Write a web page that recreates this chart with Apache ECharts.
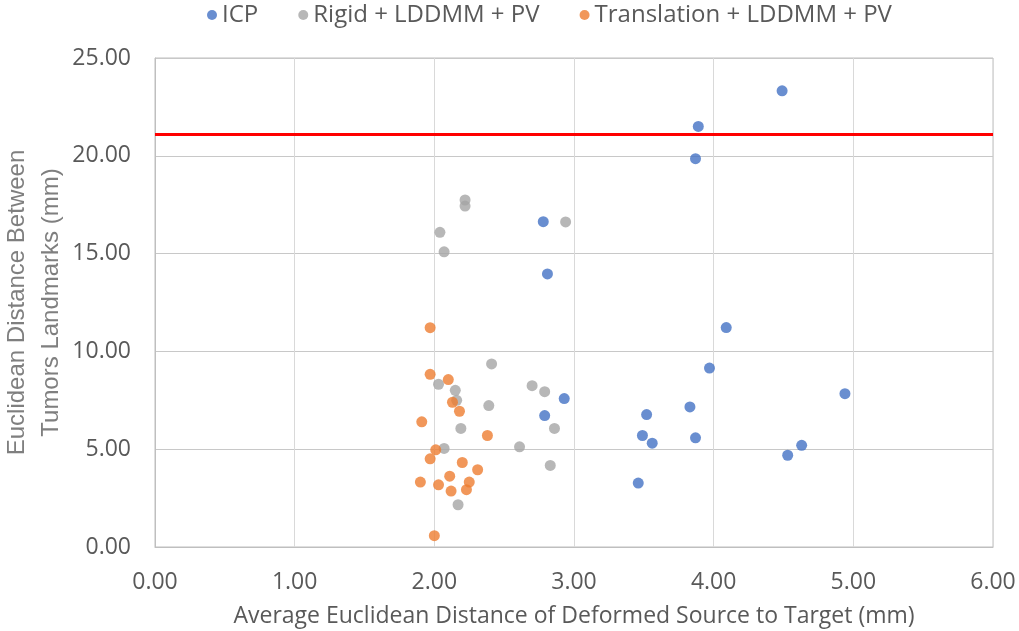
<!DOCTYPE html>
<html>
<head>
<meta charset="utf-8">
<script src="https://cdn.jsdelivr.net/npm/echarts@6/dist/echarts.min.js"></script>
<style>
  html, body { margin: 0; padding: 0; background: #fff; }
  #chart { width: 1019px; height: 631px; }
</style>
</head>
<body>
<div id="chart"></div>
<script>
// series names
const seriesNames = ["ICP", "Rigid + LDDMM + PV", "Translation + LDDMM + PV"];

// ICP points [x, y]
const icpData = [
  [4.49, 23.32], [3.89, 21.50], [3.87, 19.85], [2.78, 16.63], [2.81, 13.96],
  [4.09, 11.22], [3.97, 9.15], [4.94, 7.84], [3.83, 7.16], [3.52, 6.77],
  [3.49, 5.70], [3.56, 5.31], [3.87, 5.58], [4.63, 5.20], [4.53, 4.69],
  [3.46, 3.27], [2.93, 7.59], [2.79, 6.72]
];

// Rigid + LDDMM + PV points
const rigidData = [
  [2.22, 17.74], [2.22, 17.43], [2.94, 16.62], [2.04, 16.09], [2.07, 15.09],
  [2.41, 9.36], [2.03, 8.32], [2.15, 8.01], [2.16, 7.50], [2.39, 7.23],
  [2.70, 8.25], [2.79, 7.94], [2.86, 6.06], [2.19, 6.06], [2.07, 5.04],
  [2.61, 5.12], [2.83, 4.17], [2.17, 2.16]
];

// Translation + LDDMM + PV points
const translationData = [
  [1.97, 11.21], [1.97, 8.83], [2.10, 8.56], [2.13, 7.40], [2.18, 6.94],
  [1.91, 6.40], [2.38, 5.70], [2.01, 4.97], [1.97, 4.51], [2.20, 4.32],
  [2.31, 3.95], [2.11, 3.62], [1.90, 3.32], [2.03, 3.18], [2.25, 3.32],
  [2.12, 2.86], [2.23, 2.93], [2.00, 0.58]
];

// threshold line
const thresholdY = 21.1;

const colors = ["#4472c4", "#a5a5a5", "#ed7d31"];
const labelFont = "Open Sans";

var myChart = echarts.init(document.getElementById("chart"));
let option = {
  animation: false,
  color: colors,
  legend: {
    top: -2,
    left: 202,
    itemWidth: 10,
    itemHeight: 10,
    itemGap: 40,
    icon: "circle",
    textStyle: { fontFamily: labelFont, fontSize: 24, color: "#595959" },
    data: seriesNames
  },
  grid: {
    left: 155,
    right: 26,
    top: 58,
    bottom: 84,
    outerBoundsMode: "none",
    containLabel: false,
    show: true,
    borderColor: "#bfbfbf",
    borderWidth: 1
  },
  xAxis: {
    type: "value",
    min: 0,
    max: 6,
    interval: 1,
    name: "Average Euclidean Distance of Deformed Source to Target (mm)",
    nameLocation: "middle",
    nameGap: 58,
    nameMoveOverlap: false,
    nameTextStyle: { fontFamily: labelFont, fontSize: 23, color: "#595959" },
    axisLine: { lineStyle: { color: "#bfbfbf" } },
    axisTick: { show: false },
    axisLabel: {
      fontFamily: labelFont, fontSize: 23, color: "#595959", margin: 24,
      formatter: v => v.toFixed(2)
    },
    splitLine: { lineStyle: { color: "#d9d9d9", width: 1 } }
  },
  yAxis: {
    type: "value",
    min: 0,
    max: 25,
    interval: 5,
    name: "Euclidean Distance Between\nTumors Landmarks (mm)",
    nameLocation: "middle",
    nameGap: 87,
    nameMoveOverlap: false,
    nameTextStyle: {
      fontFamily: "Liberation Sans", fontSize: 24, color: "#7f7f7f", lineHeight: 34
    },
    axisLine: { show: true, lineStyle: { color: "#bfbfbf" } },
    axisTick: { show: false },
    axisLabel: {
      fontFamily: labelFont, fontSize: 23, color: "#595959", margin: 24,
      formatter: v => v.toFixed(2)
    },
    splitLine: { lineStyle: { color: "#c8c8c8", width: 1 } }
  },
  series: [
    {
      name: seriesNames[0],
      type: "scatter",
      symbolSize: 11,
      data: icpData,
      z: 3,
      markLine: {
        silent: true,
        symbol: "none",
        label: { show: false },
        lineStyle: { color: "#ff0000", width: 3, type: "solid" },
        data: [{ yAxis: thresholdY }]
      }
    },
    {
      name: seriesNames[1],
      type: "scatter",
      symbolSize: 11,
      data: rigidData,
      z: 3
    },
    {
      name: seriesNames[2],
      type: "scatter",
      symbolSize: 11,
      data: translationData,
      z: 4
    }
  ]
};
myChart.setOption(option);
</script>
</body>
</html>
